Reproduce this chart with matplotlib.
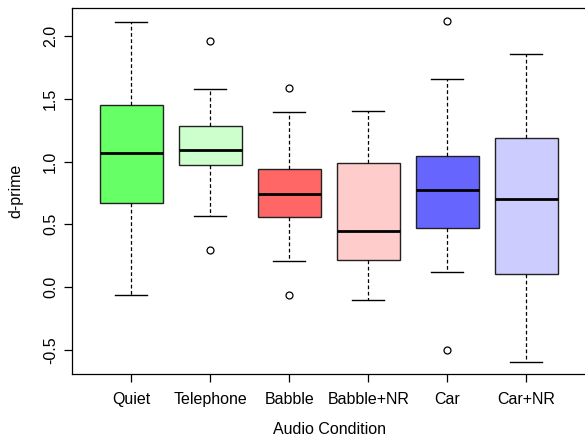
import numpy as np
import matplotlib
matplotlib.use('Agg')
import matplotlib.pyplot as plt

plt.rcParams['font.family'] = ['Liberation Sans', 'DejaVu Sans']

# Box statistics
conditions = ['Quiet', 'Telephone', 'Babble', 'Babble+NR', 'Car', 'Car+NR']
whislo = [-0.06, 0.566, 0.207, -0.104, 0.12, -0.598]
q1 = [0.669, 0.97, 0.558, 0.215, 0.47, 0.104]
med = [1.068, 1.09, 0.741, 0.446, 0.773, 0.70]
q3 = [1.45, 1.283, 0.94, 0.988, 1.044, 1.187]
whishi = [2.11, 1.58, 1.394, 1.40, 1.657, 1.857]
fliers = [[], [1.96, 0.295], [1.585, -0.064], [], [2.12, -0.50], []]
colors = ['#66FF66', '#CCFFCC', '#FF6666', '#FFCCCC', '#6666FF', '#CCCCFF']

stats = []
for i in range(len(conditions)):
    stats.append({'label': conditions[i], 'whislo': whislo[i], 'q1': q1[i],
                  'med': med[i], 'q3': q3[i], 'whishi': whishi[i],
                  'fliers': fliers[i]})

fig = plt.figure(figsize=(5.85, 4.38), dpi=100)
ax = fig.add_axes([72/585, 1-374/438, 515/585, 366/438])

bp = ax.bxp(stats, positions=range(1, 7), widths=0.8, patch_artist=True,
            boxprops=dict(edgecolor='#222222', linewidth=1.0),
            medianprops=dict(color='black', linewidth=2.0),
            whiskerprops=dict(color='black', linestyle=(0, (3, 2)), linewidth=0.9),
            capprops=dict(color='black', linewidth=1.0),
            capwidths=0.4,
            flierprops=dict(marker='o', markersize=5, markerfacecolor='none',
                            markeredgecolor='black', markeredgewidth=0.9))
for patch, c in zip(bp['boxes'], colors):
    patch.set_facecolor(c)

ax.set_xlim(0.25, 6.77)
ax.set_ylim(-0.693, 2.223)
ax.set_xticks(range(1, 7))
ax.set_xticklabels(conditions)
ax.set_yticks([-0.5, 0.0, 0.5, 1.0, 1.5, 2.0])
ax.set_yticklabels(['-0.5', '0.0', '0.5', '1.0', '1.5', '2.0'], rotation=90, va='center')
ax.tick_params(axis='both', labelsize=11.5, length=6, width=0.9)
ax.tick_params(axis='x', pad=7)
ax.tick_params(axis='y', pad=4)
ax.spines['right'].set_visible(False)
for s in ['left', 'bottom', 'top']:
    ax.spines[s].set_linewidth(0.9)

ax.set_xlabel('Audio Condition', fontsize=11.5, labelpad=11)
ax.set_ylabel('d-prime', fontsize=11.5, labelpad=14)

plt.savefig('out.png', dpi=100)
